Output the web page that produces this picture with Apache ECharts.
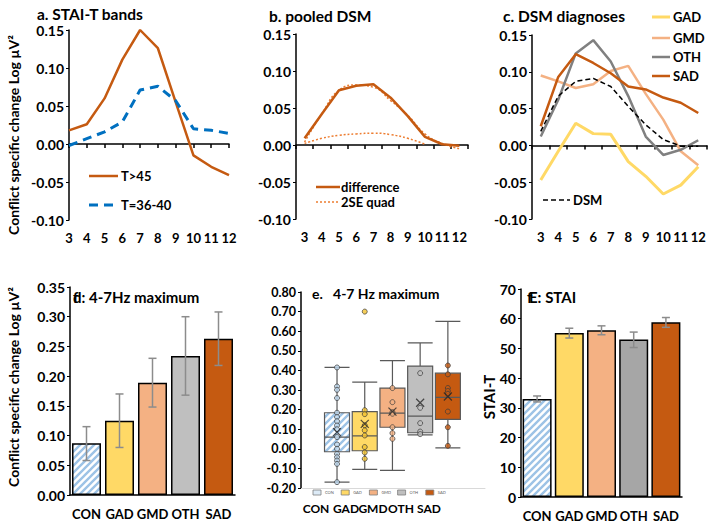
<!DOCTYPE html>
<html><head><meta charset="utf-8">
<script src="https://cdn.jsdelivr.net/npm/echarts@6/dist/echarts.min.js"></script>
<style>html,body{margin:0;padding:0;background:#fff}#c{width:709px;height:526px}</style>
</head><body><div id="c"></div>
<script>
// ---------- data ----------
const freqs = ['3','4','5','6','7','8','9','10','11','12'];
const staiHigh = [0.018,0.026,0.060,0.111,0.150,0.126,0.055,-0.015,-0.030,-0.041];
const staiMid = [-0.002,0.007,0.016,0.029,0.071,0.076,0.057,0.020,0.018,0.014];
const pooledDiff = [0.009,0.042,0.074,0.080,0.082,0.064,0.039,0.011,0.001,-0.001];
const quadUpper = [0.004,0.042,0.074,0.081,0.078,0.060,0.040,0.015,0.002,-0.005];
const quadLower = [0.002,0.009,0.013,0.015,0.016,0.014,0.009,0.001,null,null];
const gadCurve = [-0.047,-0.008,0.030,0.016,0.015,-0.022,-0.042,-0.066,-0.054,-0.029];
const gmdCurve = [0.095,0.087,0.078,0.083,0.101,0.108,0.070,0.035,-0.008,-0.027];
const othCurve = [0.012,0.062,0.125,0.143,0.114,0.067,0.012,-0.013,-0.006,0.007];
const sadCurve = [0.026,0.093,0.124,0.112,0.098,0.080,0.076,0.065,0.058,0.044];
const dsmCurve = [0.019,0.067,0.087,0.091,0.080,0.053,0.028,0.008,-0.001,-0.001];

const groups = ['CON','GAD','GMD','OTH','SAD'];
const maxMean = [0.087,0.125,0.189,0.234,0.263];
const maxLow  = [0.058,0.080,0.148,0.168,0.218];
const maxHigh = [0.115,0.170,0.230,0.300,0.308];

// boxplot: [min, Q1, median, Q3, max]
const boxCON = [-0.170,-0.015,0.060,0.184,0.415];
const boxGAD = [-0.105,-0.010,0.066,0.190,0.340];
const boxGMD = [-0.110,0.110,0.182,0.310,0.450];
const boxOTH = [0.071,0.082,0.167,0.422,0.540];
const boxSAD = [0.005,0.150,0.262,0.386,0.650];
const boxMeans = [0.085,0.127,0.190,0.235,0.267];
const ptsCON = [0.318,0.301,0.259,0.184,0.162,0.141,0.119,0.100,0.060,0.022,0.000,-0.026,-0.043,-0.060,-0.077,0.415,-0.170];
const ptsGAD = [0.197,0.177,0.120,0.094,0.068,0.009,-0.019,-0.051,0.700];
const ptsGMD = [0.310,0.238,0.187,0.179,0.110,0.080,0.051];
const ptsOTH = [0.386,0.209,0.131,0.088,0.075];
const ptsSAD = [0.425,0.380,0.310,0.295,0.280,0.190,0.110,0.015];

const staiMean = [33.0,55.2,56.1,53.0,58.8];
const staiLow  = [32.0,53.5,54.6,50.3,57.1];
const staiUp   = [34.0,56.8,57.6,55.5,60.4];

// ---------- style ----------
const FONT = 'Lato, "Liberation Sans", sans-serif';
const C_SAD = '#C55A11', C_GMD = '#F4B183', C_GAD = '#FFD966', C_OTH = '#BFBFBF', C_BLUE = '#0070C0';
const groupColors = [null, C_GAD, C_GMD, C_OTH, C_SAD];

function hatch() {
  const c = document.createElement('canvas');
  c.width = 7; c.height = 7;
  const g = c.getContext('2d');
  g.fillStyle = '#fff'; g.fillRect(0,0,7,7);
  g.strokeStyle = '#9DC3E6'; g.lineWidth = 2.4;
  g.beginPath();
  g.moveTo(-1,8); g.lineTo(8,-1);
  g.moveTo(-2,2); g.lineTo(2,-2);
  g.moveTo(5,9); g.lineTo(9,5);
  g.stroke();
  return {image: c.toDataURL(), repeat: 'repeat', imageWidth: 7, imageHeight: 7};
}
const HATCH = hatch();
const fill = i => i === 0 ? HATCH : groupColors[i];

const chart = echarts.init(document.getElementById('c'), null, {renderer: 'svg'});

function gridDef(left, top, width, height) {
  return {left, top, width, height};
}
const yLab = {fontSize: 14, fontWeight: 'bold', fontFamily: FONT, color: '#000', margin: 5};
const xLab = {fontSize: 13, fontWeight: 'bold', fontFamily: FONT, color: '#000', interval: 0};
function yAxisDef(gi, min, max, interval, digits, size) {
  return {type: 'value', gridIndex: gi, min, max, interval,
    axisLine: {show: true, onZero: false, lineStyle: {color: '#000', width: 1.5}},
    axisTick: {show: true, length: 3, lineStyle: {color: '#000', width: 1}},
    splitLine: {show: false},
    axisLabel: Object.assign({formatter: v => v.toFixed(digits)}, yLab, size ? {fontSize: size} : {})};
}
function xLineAxis(gi, gap) {
  return {type: 'category', gridIndex: gi, data: freqs, boundaryGap: gap, position: 'bottom',
    axisLine: {show: true, onZero: true, lineStyle: {color: '#000', width: 1.5}},
    axisTick: {show: true, length: 4, interval: 0, alignWithLabel: !gap, lineStyle: {color: '#000', width: 1.5}},
    axisLabel: {show: false}, splitLine: {show: false}};
}
function xLabelAxis(gi, gap) {
  return {type: 'category', gridIndex: gi, data: freqs, boundaryGap: gap, position: 'bottom',
    axisLine: {show: false, onZero: false}, axisTick: {show: false}, splitLine: {show: false},
    axisLabel: Object.assign({margin: 11}, xLab)};
}
function catAxis(gi) {
  return {type: 'category', gridIndex: gi, data: groups,
    axisLine: {show: true, lineStyle: {color: '#000', width: 1.5}}, axisTick: {show: false},
    axisLabel: Object.assign({margin: 12}, xLab)};
}
function lineSeries(xi, yi, data, color, width, type, smooth) {
  return {type: 'line', xAxisIndex: xi, yAxisIndex: yi, data, showSymbol: false, symbol: 'none',
    smooth: !!smooth, connectNulls: false, silent: true,
    lineStyle: {color, width, type: type || 'solid', cap: 'butt'}};
}
function errSeries(xi, yi, lo, hi) {
  return {type: 'custom', xAxisIndex: xi, yAxisIndex: yi, z: 5, silent: true,
    data: groups.map((g, i) => [i, lo[i], hi[i]]),
    renderItem: (params, api) => {
      const a = api.coord([api.value(0), api.value(1)]);
      const b = api.coord([api.value(0), api.value(2)]);
      const w = 4, st = {stroke: '#8C8C8C', lineWidth: 1.5};
      return {type: 'group', children: [
        {type: 'line', shape: {x1: a[0], y1: a[1], x2: b[0], y2: b[1]}, style: st},
        {type: 'line', shape: {x1: a[0]-w, y1: a[1], x2: a[0]+w, y2: a[1]}, style: st},
        {type: 'line', shape: {x1: b[0]-w, y1: b[1], x2: b[0]+w, y2: b[1]}, style: st}]};
    }};
}

const boxes = [boxCON, boxGAD, boxGMD, boxOTH, boxSAD];
const pts = [ptsCON, ptsGAD, ptsGMD, ptsOTH, ptsSAD];
const ptColors = ['#BDD7EE', '#F2C230', '#F4B183', '#BFBFBF', '#C55A11'];
const scatterData = [];
pts.forEach((arr, i) => arr.forEach(v => scatterData.push({value: [i + 1, v], itemStyle: {color: ptColors[i]}})));

// ---------- graphics (titles, legends, axis names) ----------
function txt(x, y, text, size) {
  return {type: 'text', x, y, silent: true,
    style: {text, fontSize: size, fontWeight: 'bold', fontFamily: FONT, fill: '#000',
      verticalAlign: 'middle', align: 'left'}};
}
function rtxt(x, y, text, size) {
  return {type: 'text', x, y, rotation: Math.PI / 2, silent: true,
    style: {text, fontSize: size, fontWeight: 'bold', fontFamily: FONT, fill: '#000',
      align: 'center', verticalAlign: 'middle'}};
}
function lg(x1, x2, y, color, width, dash) {
  return {type: 'line', silent: true, shape: {x1, y1: y, x2, y2: y},
    style: {stroke: color, lineWidth: width, lineDash: dash || null}};
}
const graphics = [
  txt(37, 14, 'a. STAI-T bands', 15.5),
  txt(269, 16, 'b. pooled DSM', 15.5),
  txt(503, 16, 'c. DSM diagnoses', 15.5),
  txt(73, 297, 'f', 15),
  txt(73, 297, 'd: 4-7Hz maximum', 15),
  txt(312, 293, 'e.   4-7 Hz maximum', 14),
  txt(527, 297, 'f', 15),
  txt(529, 297, 'E: STAI', 15),
  rtxt(13, 135, 'Conflict specific change Log µV²', 14),
  rtxt(13, 387, 'Conflict specific change Log µV²', 14),
  rtxt(489, 397, 'STAI-T', 15),
  lg(89, 118, 176, C_SAD, 2.5), txt(121, 176, 'T>45', 13),
  lg(89, 118, 205, C_BLUE, 3, [9, 6]), txt(121, 205, 'T=36-40', 13),
  lg(316, 340, 187, C_SAD, 2.5), txt(341, 187, 'difference', 13),
  lg(316, 340, 202, '#ED7D31', 1.5, [2, 2]), txt(341, 202, '2SE quad', 13),
  lg(652, 670, 17, C_GAD, 3), txt(673, 17, 'GAD', 13),
  lg(652, 670, 38, C_GMD, 2.5), txt(673, 38, 'GMD', 13),
  lg(652, 670, 57, '#808080', 2.5), txt(673, 57, 'OTH', 13),
  lg(652, 670, 76, C_SAD, 2.5), txt(673, 76, 'SAD', 13),
  lg(543, 570, 200, '#000', 1.5, [5, 3]), txt(573, 200, 'DSM', 13)
];
const eLabelX = [316, 346, 373, 401, 429];
groups.forEach((g, i) => {
  const bx = 313 + i * 28.2;
  graphics.push({type: 'rect', silent: true, shape: {x: bx, y: 490, width: 8, height: 5},
    style: {fill: i === 0 ? '#DDEBF7' : groupColors[i], stroke: '#7F7F7F', lineWidth: 0.8}});
  graphics.push({type: 'text', x: bx + 12, y: 492.5, silent: true,
    style: {text: g, fontSize: 4, fontFamily: FONT, fill: '#595959', verticalAlign: 'middle'}});
  graphics.push({type: 'text', x: eLabelX[i], y: 508, silent: true,
    style: {text: g, fontSize: 12, fontWeight: 'bold', fontFamily: FONT, fill: '#000', align: 'center', verticalAlign: 'middle'}});
});

const option = {
  animation: false,
  backgroundColor: '#fff',
  grid: [
    gridDef(69, 30, 160, 190),
    gridDef(296, 34, 172, 185),
    gridDef(532, 35, 175, 184),
    gridDef(70, 287, 165, 208),
    gridDef(301, 292, 184, 196),
    gridDef(521, 289, 161, 208)
  ],
  xAxis: [
    xLineAxis(0, false), xLabelAxis(0, false),
    xLineAxis(1, true), xLabelAxis(1, true),
    xLineAxis(2, true), xLabelAxis(2, true),
    catAxis(3),
    {type: 'value', gridIndex: 4, min: -0.30, max: 6.34,
      axisLine: {show: true, onZero: false, lineStyle: {color: '#D9D9D9', width: 1}},
      axisTick: {show: false}, axisLabel: {show: false}, splitLine: {show: false}},
    catAxis(5)
  ],
  yAxis: [
    yAxisDef(0, -0.10, 0.15, 0.05, 2),
    yAxisDef(1, -0.10, 0.15, 0.05, 2),
    yAxisDef(2, -0.10, 0.15, 0.05, 2),
    yAxisDef(3, 0, 0.35, 0.05, 2),
    yAxisDef(4, -0.20, 0.80, 0.10, 2, 12.5),
    yAxisDef(5, 0, 70, 10, 0)
  ],
  series: [
    lineSeries(0, 0, staiHigh, C_SAD, 2.5),
    lineSeries(0, 0, staiMid, C_BLUE, 3, [9, 6]),
    lineSeries(2, 1, quadUpper, '#ED7D31', 1.5, [2, 2], true),
    lineSeries(2, 1, quadLower, '#ED7D31', 1.5, [2, 2], true),
    lineSeries(2, 1, pooledDiff, C_SAD, 2.5),
    lineSeries(4, 2, gadCurve, C_GAD, 3),
    lineSeries(4, 2, gmdCurve, C_GMD, 2.5),
    lineSeries(4, 2, othCurve, '#808080', 2.5),
    lineSeries(4, 2, sadCurve, C_SAD, 2.5),
    lineSeries(4, 2, dsmCurve, '#000', 1.5, [5, 3]),
    {type: 'bar', xAxisIndex: 6, yAxisIndex: 3, barWidth: 29, silent: true,
      data: maxMean.map((v, i) => ({value: v, itemStyle: {color: fill(i), borderColor: '#000', borderWidth: 1.5}}))},
    errSeries(6, 3, maxLow, maxHigh),
    {type: 'boxplot', xAxisIndex: 7, yAxisIndex: 4, boxWidth: [25, 25], silent: true,
      data: boxes.map((b, i) => ({value: [i + 1].concat(b),
        itemStyle: {color: fill(i), borderColor: '#595959', borderWidth: 1.2}}))},
    {type: 'scatter', xAxisIndex: 7, yAxisIndex: 4, symbol: 'circle', symbolSize: 5, z: 4, silent: true,
      itemStyle: {borderColor: '#3A3A3A', borderWidth: 0.9}, data: scatterData},
    {type: 'scatter', xAxisIndex: 7, yAxisIndex: 4, symbol: 'path://M0,0L10,10M10,0L0,10', symbolSize: 8, z: 5, silent: true,
      itemStyle: {color: 'none', borderColor: '#262626', borderWidth: 1.2},
      data: boxMeans.map((v, i) => [i + 1, v])},
    {type: 'bar', xAxisIndex: 8, yAxisIndex: 5, barWidth: 29, silent: true,
      data: staiMean.map((v, i) => ({value: v, itemStyle: {color: i === 3 ? '#A6A6A6' : fill(i), borderColor: '#000', borderWidth: 1.5}}))},
    errSeries(8, 5, staiLow, staiUp)
  ],
  graphic: graphics
};
chart.setOption(option);
</script>
</body></html>
